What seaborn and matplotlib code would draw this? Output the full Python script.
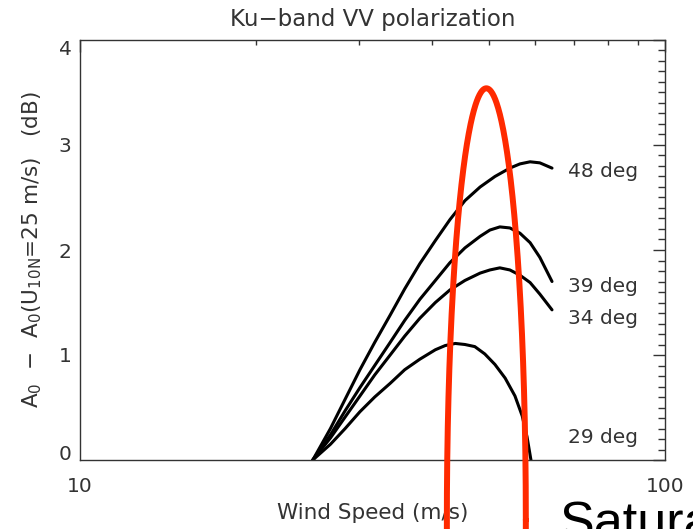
import numpy as np
import pandas as pd
import matplotlib
matplotlib.use("Agg")
import matplotlib.pyplot as plt
import seaborn as sns
from matplotlib.ticker import FixedLocator, FixedFormatter, LogLocator, NullFormatter, MultipleLocator

# Incidence angles and model curves: wind speed (m/s) vs A0 difference (dB)
angles = ["48 deg", "39 deg", "34 deg", "29 deg"]

speed_48 = [25.0, 26.8, 28.4, 30.1, 31.9, 33.9, 35.9, 38.1, 40.5, 42.9, 45.5,
            48.3, 51.2, 54.3, 56.5, 58.8, 61.1, 64.1]
diff_48 = [0.00, 0.30, 0.58, 0.86, 1.12, 1.38, 1.63, 1.87, 2.09, 2.29, 2.47,
           2.60, 2.70, 2.78, 2.82, 2.84, 2.83, 2.78]

speed_39 = [25.0, 26.8, 28.4, 30.1, 31.9, 33.9, 35.9, 38.1, 40.5, 42.9, 45.5,
            48.3, 50.2, 52.2, 54.3, 56.5, 58.8, 61.1, 64.1]
diff_39 = [0.00, 0.24, 0.47, 0.69, 0.90, 1.12, 1.33, 1.53, 1.71, 1.88, 2.02,
           2.13, 2.19, 2.22, 2.21, 2.16, 2.07, 1.93, 1.70]

speed_34 = [25.0, 26.8, 28.4, 30.1, 31.9, 33.9, 35.9, 38.1, 40.5, 42.9, 45.5,
            48.3, 50.2, 52.2, 54.3, 56.5, 58.8, 61.1, 64.1]
diff_34 = [0.00, 0.21, 0.41, 0.61, 0.81, 1.00, 1.18, 1.35, 1.50, 1.62, 1.71,
           1.78, 1.81, 1.83, 1.81, 1.76, 1.69, 1.58, 1.43]

speed_29 = [25.0, 26.8, 28.4, 30.1, 31.9, 33.9, 35.9, 38.1, 40.5, 42.1, 43.8,
            45.5, 47.3, 49.2, 51.2, 53.3, 55.4, 57.0, 58.1, 59.0]
diff_29 = [0.00, 0.15, 0.30, 0.46, 0.60, 0.73, 0.86, 0.96, 1.05, 1.09, 1.11,
           1.10, 1.08, 1.01, 0.91, 0.78, 0.61, 0.42, 0.22, 0.00]

# Curve labels at the right-hand end of the curves
label_speed = 68.2
label_db = [2.75, 1.65, 1.35, 0.21]

# Highlight loop around the saturation region (log-speed centre / half width, dB centre / half height)
loop_center_speed = 49.5
loop_half_width_dex = 0.0675
loop_center_db = -0.57
loop_half_height_db = 4.11

speeds = [speed_48, speed_39, speed_34, speed_29]
diffs = [diff_48, diff_39, diff_34, diff_29]
df = pd.concat(
    [pd.DataFrame({"speed": s, "diff": d, "angle": a}) for a, s, d in zip(angles, speeds, diffs)],
    ignore_index=True,
)

sns.set_style("white")
plt.rcParams["font.family"] = ["DejaVu Sans"]
plt.rcParams["mathtext.fontset"] = "dejavusans"
text_color = "#333333"

fig = plt.figure(figsize=(6.93, 5.29), dpi=100)
ax = fig.add_axes([80 / 693, 69 / 529, 585 / 693, 420 / 529])
ax.set_xscale("log")

sns.lineplot(data=df, x="speed", y="diff", hue="angle",
             palette={a: "black" for a in angles}, estimator=None,
             legend=False, linewidth=2.2, solid_joinstyle="round", ax=ax)

ax.set_xlim(10, 100)
ax.set_ylim(0, 4)

# x axis: log scale labelled only at the decades
ax.xaxis.set_major_locator(FixedLocator([10, 100]))
ax.xaxis.set_major_formatter(FixedFormatter(["10", "100"]))
ax.xaxis.set_minor_locator(LogLocator(base=10, subs=np.arange(2, 10)))
ax.xaxis.set_minor_formatter(NullFormatter())
ax.yaxis.set_major_locator(MultipleLocator(1))
ax.yaxis.set_minor_locator(MultipleLocator(0.1))

ax.tick_params(which="both", direction="in", top=True, right=True,
               color=text_color, labelcolor=text_color, labelsize=14.5, width=1)
ax.tick_params(axis="y", which="major", length=8.6, pad=6)
ax.tick_params(axis="y", which="minor", length=5)
ax.tick_params(axis="x", which="major", length=8.6, pad=12)
ax.tick_params(axis="x", which="minor", length=3.6)

for lbl in ax.get_yticklabels():
    if lbl.get_text() == "4":
        lbl.set_verticalalignment("top")
    elif lbl.get_text() == "0":
        lbl.set_verticalalignment("baseline")

for sp in ax.spines.values():
    sp.set_color(text_color)
    sp.set_linewidth(1.0)

ax.set_title("Ku\u2212band VV polarization", fontsize=16.5, color=text_color, pad=10)
ax.set_xlabel("Wind Speed (m/s)", fontsize=15.5, color=text_color)
ax.xaxis.set_label_coords(0.5, -0.102)
ax.set_ylabel("A$_0$  \u2212  A$_0$(U$_{\\mathrm{10N}}$=25 m/s)   (dB)", fontsize=15.5, color=text_color)
ax.yaxis.set_label_coords(-0.062, 0.5)

for name, y in zip(angles, label_db):
    ax.text(label_speed, y, name, ha="left", va="center", fontsize=14.5, color=text_color)

# Red highlight loop drawn through the axes' log scale, allowed past the frame
t = np.linspace(0, 2 * np.pi, 721)
loop_x = 10 ** (np.log10(loop_center_speed) + loop_half_width_dex * np.cos(t))
loop_y = loop_center_db + loop_half_height_db * np.sin(t)
ax.plot(loop_x, loop_y, color="#ff2a00", linewidth=4.3, clip_on=False, zorder=5)

fig.text(560 / 693, -8 / 529, "Saturation", fontsize=37.5, family="Liberation Sans",
         color="black", ha="left", va="baseline")

fig.savefig("out.png", dpi=100)
